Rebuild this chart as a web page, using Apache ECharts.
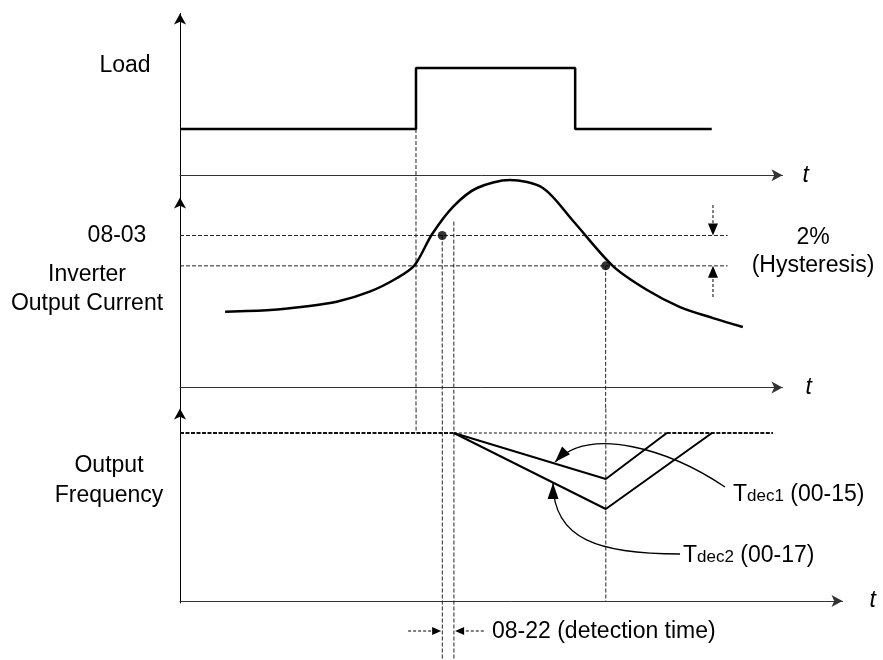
<!DOCTYPE html>
<html><head><meta charset="utf-8">
<script src="https://cdn.jsdelivr.net/npm/echarts@6/dist/echarts.min.js"></script>
<style>html,body{margin:0;padding:0;background:#fff}#c{width:883px;height:660px}</style>
</head><body><div id="c"></div>
<script>
// ---- data (time in arbitrary units, levels in panel units) ----
const loadT = [0, 38.7, 38.7, 64.8, 64.8, 87.2];
const loadV = [2.86, 2.86, 6.63, 6.63, 2.86, 2.86];

const currentT = [7.4, 14.8, 20.2, 25.7, 31.1, 35.6, 38.5, 41.3, 44.8, 48.7, 54.1, 59.5, 64.5, 71.0, 76.6, 82.0, 87.4, 92.3];
const currentV = [39.9, 40.8, 42.5, 45.1, 50.4, 57.6, 64.5, 80.5, 95.2, 105.0, 109.2, 105.0, 87.5, 63.9, 51.3, 42.3, 36.5, 31.8];

const tRise = 38.7, tTrip = 43.0, tDetect = 44.9, tRecover = 69.8;
const levelTrip = 80, levelRelease = 64, detectStart = 87.3;   // 08-03 and 08-03 - 2%
const levelEnd = 89.8;

const freqLevel = 84, freqEnd = 97.2;
const tdec1T = [44.9, 69.8, 79.8];
const tdec1V = [84, 61, 84];
const tdec2T = [44.9, 69.8, 87.2];
const tdec2V = [84, 46, 84];

const hysteresisArrows = [[87.4, 96.0, 87.4, levelTrip], [87.4, 47.6, 87.4, levelRelease]];
const detectionArrows = [[37.4, -15, 42.8, -15], [49.8, -15, 45.1, -15]];
// cubic curves: start, ctrl1, ctrl2, end(tip)
const curvedArrows = [
  [89.34, 57, 80.33, 75.5, 67.21, 88, 61.48, 69.5],
  [81.97, 23.5, 68.85, 23.5, 61.15, 30.5, 61.15, 59]
];
const bottom3 = -29.5;

// ---- helpers ----
const zip = (a, b) => a.map((v, i) => [v, b[i]]);
const FONT = '"Liberation Sans", Arial, sans-serif';
const dash = {color: '#222', width: 1, type: [4, 2]};
function seg(gi, pts, style, z) {
  return {type: 'line', xAxisIndex: gi, yAxisIndex: gi, data: pts, symbol: 'none', clip: false,
          silent: true, animation: false, lineStyle: style, z: z || 2};
}
function head(tip, dir, len, wid) {
  const L = Math.hypot(dir[0], dir[1]) || 1, ux = dir[0] / L, uy = dir[1] / L;
  const bx = tip[0] - ux * len, by = tip[1] - uy * len;
  return {type: 'polygon', shape: {points: [[tip[0], tip[1]], [bx - uy * wid / 2, by + ux * wid / 2], [bx + uy * wid / 2, by - ux * wid / 2]]},
          style: {fill: '#000'}};
}
function straightArrow(params, api) {
  const a = api.coord([api.value(0), api.value(1)]);
  const b = api.coord([api.value(2), api.value(3)]);
  const d = [b[0] - a[0], b[1] - a[1]], L = Math.hypot(d[0], d[1]);
  const len = params.seriesName === 'hyst' ? 12 : 9, wid = params.seriesName === 'hyst' ? 10 : 8;
  const e = [b[0] - d[0] / L * len * 0.7, b[1] - d[1] / L * len * 0.7];
  return {type: 'group', children: [
    {type: 'line', shape: {x1: a[0], y1: a[1], x2: e[0], y2: e[1]}, style: {stroke: '#000', lineWidth: 1, lineDash: [3, 2]}},
    head(b, d, len, wid)
  ]};
}
function curvedArrow(params, api) {
  const p = [0, 2, 4, 6].map(i => api.coord([api.value(i), api.value(i + 1)]));
  const d = [p[3][0] - p[2][0], p[3][1] - p[2][1]];
  return {type: 'group', children: [
    {type: 'bezierCurve', shape: {x1: p[0][0], y1: p[0][1], cpx1: p[1][0], cpy1: p[1][1], cpx2: p[2][0], cpy2: p[2][1], x2: p[3][0], y2: p[3][1]},
     style: {stroke: '#000', lineWidth: 1.3, fill: 'none'}},
    head(p[3], d, 16, 11)
  ]};
}

function xAx(gi, max, gap) {
  return {type: 'value', gridIndex: gi, min: 0, max: max,
    axisLine: {show: true, onZero: true, symbol: ['none', 'arrow'], symbolSize: [9, 11], lineStyle: {color: '#333', width: 1}},
    axisTick: {show: false}, axisLabel: {show: false}, splitLine: {show: false},
    name: 't', nameLocation: 'end', nameGap: gap,
    nameTextStyle: {fontFamily: FONT, fontSize: 23, fontStyle: 'italic', color: '#000', verticalAlign: 'middle'}};
}
function yAx(gi, min, max) {
  return {type: 'value', gridIndex: gi, min: min, max: max,
    axisLine: {show: true, onZero: false, symbol: ['none', 'arrow'], symbolSize: [9, 11], lineStyle: {color: '#000', width: 1}},
    axisTick: {show: false}, axisLabel: {show: false}, splitLine: {show: false}};
}
function txt(x, y, s, align) {
  return {type: 'text', x: x, y: y, silent: true,
    style: {text: s, font: '23px ' + FONT, fill: '#000', align: align || 'center', verticalAlign: 'middle'}};
}
function richTxt(x, y, sub, rest) {
  return {type: 'text', x: x, y: y, silent: true,
    style: {text: '{a|T}{b|' + sub + '}{a|' + rest + '}', align: 'left', verticalAlign: 'middle',
      rich: {a: {fontSize: 23, fontFamily: FONT, lineHeight: 27, verticalAlign: 'bottom', color: '#000'},
             b: {fontSize: 17, fontFamily: FONT, lineHeight: 20, verticalAlign: 'bottom', padding: [0, 0, 2, 0], color: '#000'}}}};
}

const yMax2 = 100, yMin2 = -11.1, yMax3 = 96.25, yMin3 = -1, yMax1 = 10, yMin1 = -1.37;

const series = [
  // load
  seg(0, zip(loadT, loadV), {color: '#000', width: 2.5}, 5),
  seg(0, [[tRise, loadV[1]], [tRise, yMin1]], dash),
  // current panel
  seg(1, [[0, levelTrip], [levelEnd, levelTrip]], dash),
  seg(1, [[0, levelRelease], [levelEnd, levelRelease]], dash),
  seg(1, [[tRise, yMax2], [tRise, yMin2]], dash),
  seg(1, [[tTrip, levelTrip], [tTrip, yMin2]], dash),
  seg(1, [[tDetect, detectStart], [tDetect, yMin2]], dash),
  seg(1, [[tRecover, levelRelease], [tRecover, yMin2]], dash),
  {type: 'line', xAxisIndex: 1, yAxisIndex: 1, data: zip(currentT, currentV), smooth: 0.3,
   symbol: 'none', clip: false, silent: true, animation: false, lineStyle: {color: '#000', width: 2.5}, z: 5},
  {type: 'scatter', xAxisIndex: 1, yAxisIndex: 1, data: [[tTrip, levelTrip], [tRecover, levelRelease]],
   symbolSize: 9, itemStyle: {color: '#000'}, silent: true, animation: false, z: 6},
  {type: 'custom', name: 'hyst', xAxisIndex: 1, yAxisIndex: 1, data: hysteresisArrows, renderItem: straightArrow,
   clip: false, silent: true, animation: false, encode: {x: [0, 2], y: [1, 3]}},
  // frequency panel
  seg(2, [[tRise, yMax3], [tRise, freqLevel]], dash),
  seg(2, [[tTrip, yMax3], [tTrip, bottom3]], dash),
  seg(2, [[tDetect, yMax3], [tDetect, bottom3]], dash),
  seg(2, [[tRecover, yMax3], [tRecover, 0]], dash),
  seg(2, [[0, freqLevel], [tdec1T[0], freqLevel]], {color: '#111', width: 2, type: [4, 1.5]}, 4),
  seg(2, [[tdec1T[0], freqLevel], [tdec1T[2], freqLevel]], {color: '#111', width: 1, type: [3, 2]}, 3),
  seg(2, [[tdec1T[2], freqLevel], [freqEnd, freqLevel]], {color: '#111', width: 2, type: [4, 1.5]}, 4),
  seg(2, zip(tdec1T, tdec1V), {color: '#000', width: 2}, 5),
  seg(2, zip(tdec2T, tdec2V), {color: '#000', width: 2}, 5),
  {type: 'custom', name: 'det', xAxisIndex: 2, yAxisIndex: 2, data: detectionArrows, renderItem: straightArrow,
   clip: false, silent: true, animation: false, encode: {x: [0, 2], y: [1, 3]}},
  {type: 'custom', name: 'curve', xAxisIndex: 2, yAxisIndex: 2, data: curvedArrows, renderItem: curvedArrow,
   clip: false, silent: true, animation: false, encode: {x: [0, 2, 4, 6], y: [1, 3, 5, 7]}}
];

const chart = echarts.init(document.getElementById('c'), null, {renderer: 'canvas'});
chart.setOption({
  animation: false,
  backgroundColor: '#fff',
  grid: [
    {left: 180, top: 13.5, width: 602.5, height: 184},
    {left: 180, top: 197.5, width: 602.5, height: 211},
    {left: 180, top: 408.5, width: 662.5, height: 194.5}
  ],
  xAxis: [xAx(0, 98.8, 20), xAx(1, 98.8, 23), xAx(2, 108.6, 27)],
  yAxis: [yAx(0, yMin1, yMax1), yAx(1, yMin2, yMax2), yAx(2, yMin3, yMax3)],
  series: series,
  graphic: [
    txt(125, 66, 'Load'),
    txt(117, 236, '08-03'),
    txt(87, 275, 'Inverter'),
    txt(87, 304, 'Output Current'),
    txt(109, 466, 'Output'),
    txt(109, 496, 'Frequency'),
    txt(813, 238, '2%'),
    txt(813, 266, '(Hysteresis)'),
    richTxt(733, 493, 'dec1', ' (00-15)'),
    richTxt(683, 554, 'dec2', ' (00-17)'),
    txt(492, 632, '08-22 (detection time)', 'left')
  ]
});
</script></body></html>
